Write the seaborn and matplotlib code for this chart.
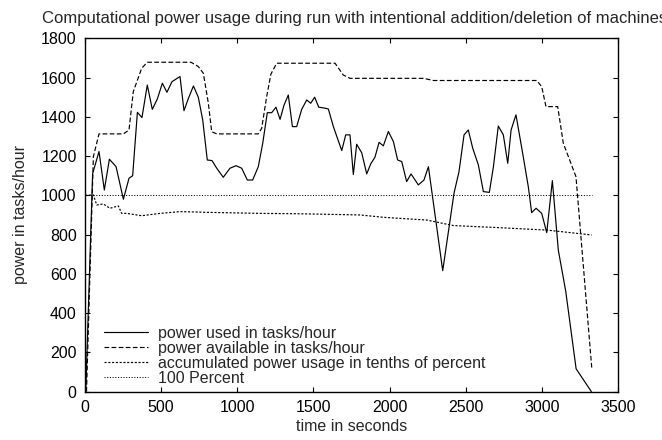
import matplotlib
matplotlib.use("Agg")
import matplotlib.pyplot as plt
import seaborn as sns

# --- data ---
used_t = [5, 50, 92, 127, 160, 204, 252, 289, 313, 344, 374, 409, 442, 475, 508, 538, 571,
          624, 650, 679, 712, 744, 773, 803, 834, 865, 908, 952, 992, 1029, 1066, 1101, 1138,
          1167, 1197, 1226, 1254, 1281, 1307, 1335, 1362, 1390, 1423, 1456, 1482, 1508, 1535,
          1569, 1598, 1631, 1686, 1712, 1740, 1762, 1784, 1817, 1850, 1876, 1904, 1931, 1959,
          1992, 2025, 2053, 2080, 2112, 2141, 2189, 2226, 2255, 2349, 2423, 2456, 2489, 2517,
          2546, 2583, 2616, 2655, 2682, 2714, 2747, 2776, 2798, 2830, 2874, 2911, 2933, 2962,
          2999, 3032, 3069, 3108, 3157, 3225, 3325]
used_power = [0, 1110, 1223, 1027, 1184, 1146, 980, 1087, 1100, 1423, 1396, 1562, 1438, 1491,
              1571, 1525, 1579, 1605, 1431, 1494, 1557, 1500, 1384, 1180, 1177, 1138, 1092,
              1138, 1151, 1138, 1078, 1078, 1146, 1265, 1421, 1421, 1449, 1387, 1460, 1511,
              1350, 1350, 1438, 1486, 1469, 1500, 1449, 1445, 1440, 1350, 1228, 1308, 1308,
              1106, 1260, 1217, 1109, 1160, 1194, 1270, 1252, 1325, 1274, 1180, 1172, 1070,
              1109, 1053, 1078, 1146, 616, 1010, 1121, 1308, 1333, 1240, 1155, 1019, 1015,
              1146, 1353, 1308, 1163, 1333, 1410, 1214, 1044, 912, 934, 908, 810, 1075, 721,
              510, 116, 0]

avail_t = [10, 55, 92, 252, 289, 317, 372, 409, 696, 744, 777, 810, 832, 865, 1138, 1160, 1193,
           1221, 1259, 1642, 1696, 1740, 2222, 2288, 2966, 2999, 3027, 3104, 3141, 3224, 3328]
avail_power = [0, 1197, 1313, 1313, 1333, 1528, 1647, 1678, 1678, 1656, 1622, 1469, 1324, 1313,
               1313, 1341, 1503, 1618, 1673, 1673, 1613, 1596, 1596, 1585, 1585, 1554, 1452,
               1452, 1265, 1095, 118]

acc_t = [0, 55, 77, 120, 164, 219, 241, 274, 372, 493, 624, 821, 1149, 1412, 1806, 1959, 2244,
         2419, 2725, 3032, 3327]
acc_usage = [1000, 1002, 951, 956, 934, 946, 908, 908, 896, 908, 917, 913, 908, 906, 900, 888,
             874, 846, 835, 823, 798]

hundred_t = [0, 3327]
hundred_val = [1000, 1000]

labels = ["power used in tasks/hour", "power available in tasks/hour",
          "accumulated power usage in tenths of percent", "100 Percent"]

# --- styling ---
sns.set_style("ticks")
plt.rcParams["font.family"] = ["Liberation Sans", "DejaVu Sans"]
FS = 11.5

fig, ax = plt.subplots(figsize=(6.62, 4.4), dpi=100)
fig.subplots_adjust(left=85 / 662, right=618 / 662, top=1 - 38.3 / 440, bottom=1 - 391.6 / 440)

sns.lineplot(x=used_t, y=used_power, ax=ax, color="black", linewidth=0.85,
             estimator=None, sort=False, label=labels[0])
sns.lineplot(x=avail_t, y=avail_power, ax=ax, color="black", linewidth=0.85,
             linestyle=(0, (4, 2)), estimator=None, sort=False, label=labels[1])
sns.lineplot(x=acc_t, y=acc_usage, ax=ax, color="black", linewidth=0.85,
             linestyle=(0, (1.8, 1.4)), estimator=None, sort=False, label=labels[2])
sns.lineplot(x=hundred_t, y=hundred_val, ax=ax, color="black", linewidth=0.75,
             linestyle=(0, (1, 1.6)), estimator=None, sort=False, label=labels[3])

ax.set_xlim(0, 3500)
ax.set_ylim(0, 1800)
ax.set_xticks(range(0, 3501, 500))
ax.set_yticks(range(0, 1801, 200))
ax.tick_params(direction="in", length=3.6, width=0.8, top=True, right=True,
               labelsize=FS, colors="black", pad=6)
for s in ax.spines.values():
    s.set_visible(True)
    s.set_linewidth(1.0)
    s.set_color("black")

ax.set_xlabel("time in seconds", fontsize=FS)
ax.set_ylabel("power in tasks/hour", fontsize=FS)
ax.xaxis.set_label_coords(0.5, -0.078)
ax.yaxis.set_label_coords(-0.107, 0.5)

# title runs off the right edge, as in the reference
fig.text(42 / 662, 1 - 23.5 / 440, "Computational power usage during run with intentional "
         "addition/deletion of machines", fontsize=12, ha="left", va="baseline")

ax.legend(loc="lower left", bbox_to_anchor=(0.0356, 0.017), frameon=False, fontsize=FS,
          handlelength=2.75, handletextpad=0.63, labelspacing=0.0, borderpad=0,
          borderaxespad=0)

fig.savefig("out.png", dpi=100)
